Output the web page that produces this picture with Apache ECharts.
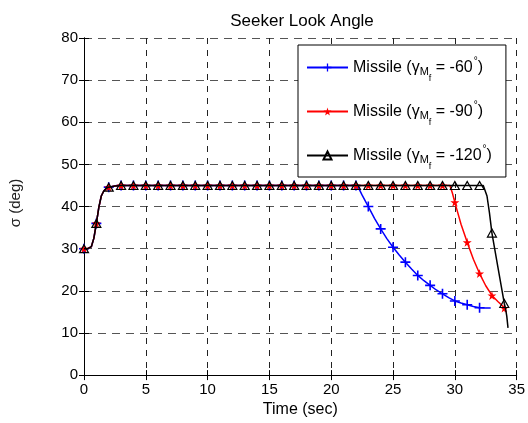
<!DOCTYPE html>
<html>
<head>
<meta charset="utf-8">
<script src="https://cdn.jsdelivr.net/npm/echarts@6/dist/echarts.min.js"></script>
<style>html,body{margin:0;padding:0;background:#fff;}#c{width:528px;height:423px;}</style>
</head>
<body>
<div id="c"></div>
<script>
// ---- data ----
const titleText = 'Seeker Look Angle';
const xName = 'Time (sec)';
const yName = 'σ (deg)';
const angles = ['-60', '-90', '-120'];
const xTicks = [0, 5, 10, 15, 20, 25, 30, 35];
const yTicks = [0, 10, 20, 30, 40, 50, 60, 70, 80];

const tBlue = [0,0.3,0.6,0.8,1,1.2,1.4,1.6,1.8,2,2.5,3,4,5,6,7,8,9,10,11,12,13,14,15,16,17,18,19,20,21,22,22.2,22.5,23,23.5,24,24.5,25,25.5,26,26.5,27,27.5,28,28.5,29,29.5,30,30.5,31,31.5,32,32.5,32.9];
const vBlue = [30,30,30.5,32.5,36,39.8,42.5,43.7,44.3,44.6,44.9,45,45,45,45,45,45,45,45,45,45,45,45,45,45,45,45,45,45,45,45,44.5,42.7,40,37.2,34.7,32.4,30.35,28.5,26.8,25.2,23.65,22.4,21.3,20.2,19.3,18.4,17.6,17.1,16.7,16.3,16.0,15.9,15.9];

const tRed = [0,0.3,0.6,0.8,1,1.2,1.4,1.6,1.8,2,2.5,3,4,5,6,7,8,9,10,11,12,13,14,15,16,17,18,19,20,21,22,23,24,25,26,27,28,29,29.6,29.8,30,30.5,31,31.5,32,32.5,33,33.5,33.8,34,34.1];
const vRed = [30,30,30.5,32.5,36,39.8,42.5,43.7,44.3,44.6,44.9,45,45,45,45,45,45,45,45,45,45,45,45,45,45,45,45,45,45,45,45,45,45,45,45,45,45,45,45,43.2,41,35.8,31.5,27.5,24.1,21.2,18.9,17.4,16.6,15.9,15.0];

const tBlack = [0,0.3,0.6,0.8,1,1.2,1.4,1.6,1.8,2,2.5,3,4,5,6,7,8,9,10,11,12,13,14,15,16,17,18,19,20,21,22,23,24,25,26,27,28,29,30,31,32,32.3,32.6,32.8,33,33.5,34,34.1,34.2,34.3];
const vBlack = [30,30,30.5,32.5,36,39.8,42.5,43.7,44.3,44.6,44.9,45,45,45,45,45,45,45,45,45,45,45,45,45,45,45,45,45,45,45,45,45,45,45,45,45,45,45,45,45,45,45,42.5,38.5,33.7,25.3,17.0,15.8,14.0,11.2];

// ---- styling ----
const FONT = 'Liberation Sans';
const plusPath = 'path://M4.2,0H5.8V4.2H10V5.8H5.8V10H4.2V5.8H0V4.2H4.2Z';
const starPath = 'path://M50,0L61,35H98L68,57L79,91L50,70L21,91L32,57L2,35H39Z';
const triPath = 'path://M5,0L10,9H0Z';

function build(ts, vs) {
  return ts.map((t, i) => {
    const isMarker = Math.abs(t - Math.round(t)) < 1e-9;
    return isMarker ? { value: [t, vs[i]] } : { value: [t, vs[i]], symbol: 'none' };
  });
}

const names = angles.map(a => 'Missile (γMf = ' + a + '°)');

const chart = echarts.init(document.getElementById('c'), null, { renderer: 'canvas' });
chart.setOption({
  animation: false,
  backgroundColor: '#fff',
  title: {
    text: titleText, left: 297, top: 8, textAlign: 'center',
    textStyle: { fontFamily: FONT, fontSize: 17, fontWeight: 'normal', color: '#000' }
  },
  grid: { left: 84, right: 10, top: 38, bottom: 46, containLabel: false },
  legend: {
    orient: 'vertical', left: 298, top: 45,
    backgroundColor: '#fff', borderColor: '#000', borderWidth: 1,
    padding: [11, 14, 6, 8], itemGap: 17,
    itemWidth: 41, itemHeight: 10,
    data: names,
    formatter: function (name) {
      const i = names.indexOf(name);
      return '{n|Missile (γ}{m|M}{f|f}{n| = ' + angles[i] + '}{d|°}{n|)}';
    },
    textStyle: {
      fontFamily: FONT, fontSize: 16, color: '#000',
      rich: {
        n: { fontFamily: FONT, fontSize: 16, color: '#000' },
        m: { fontFamily: FONT, fontSize: 11, color: '#000', padding: [9, 0, 0, 0] },
        f: { fontFamily: FONT, fontSize: 9, color: '#000', padding: [22, 0, 0, 0] },
        d: { fontFamily: FONT, fontSize: 10, color: '#000', padding: [0, 0, 13, 1] }
      }
    }
  },
  xAxis: [{
    type: 'value', min: 0, max: 35, interval: 5,
    name: xName, nameLocation: 'middle', nameGap: 22,
    nameTextStyle: { fontFamily: FONT, fontSize: 16, color: '#000' },
    axisLine: { show: true, onZero: false, lineStyle: { color: '#000', width: 1 } },
    axisTick: { show: true, inside: true, length: 5, lineStyle: { color: '#000' } },
    axisLabel: { fontFamily: FONT, fontSize: 15, color: '#000', margin: 7,
      formatter: v => xTicks.includes(v) ? String(v) : '' },
    splitLine: { show: true, lineStyle: { color: '#222', type: [6, 6], width: 1 } }
  }, {
    type: 'value', min: 0, max: 35, interval: 5, position: 'top',
    axisLine: { show: true, lineStyle: { color: '#000' } },
    axisTick: { show: true, inside: true, length: 5, lineStyle: { color: '#000' } },
    axisLabel: { show: false }, splitLine: { show: false }
  }],
  yAxis: [{
    type: 'value', min: 0, max: 80, interval: 10,
    axisLine: { show: true, onZero: false, lineStyle: { color: '#000', width: 1 } },
    axisTick: { show: true, inside: true, length: 5, lineStyle: { color: '#000' } },
    axisLabel: { fontFamily: FONT, fontSize: 15, color: '#000', margin: 6,
      formatter: v => yTicks.includes(v) ? String(v) : '' },
    splitLine: { show: true, lineStyle: { color: '#555', type: [8, 6], width: 1 } }
  }, {
    type: 'value', min: 0, max: 80, interval: 10, position: 'right',
    axisLine: { show: true, lineStyle: { color: '#000' } },
    axisTick: { show: true, inside: true, length: 5, lineStyle: { color: '#000' } },
    axisLabel: { show: false }, splitLine: { show: false }
  }],
  graphic: [{
    type: 'text', x: 16, y: 203, rotation: Math.PI / 2,
    style: { text: yName, fontFamily: FONT, fontSize: 15, fill: '#222', align: 'center', verticalAlign: 'middle' }
  }],
  series: [{
    name: names[0], type: 'line', data: build(tBlue, vBlue),
    symbol: plusPath, symbolSize: 10, showAllSymbol: true,
    lineStyle: { color: '#0000ff', width: 1.5 },
    itemStyle: { color: '#0000ff' }, z: 2
  }, {
    name: names[1], type: 'line', data: build(tRed, vRed),
    symbol: starPath, symbolSize: 9, showAllSymbol: true,
    lineStyle: { color: '#ff0000', width: 1.5 },
    itemStyle: { color: '#ff0000' }, z: 3
  }, {
    name: names[2], type: 'line', data: build(tBlack, vBlack),
    symbol: triPath, symbolSize: [9, 8], showAllSymbol: true,
    lineStyle: { color: '#000', width: 1.5 },
    itemStyle: { color: 'rgba(0,0,0,0)', borderColor: '#000', borderWidth: 1.2 }, z: 4
  }]
});
</script>
</body>
</html>
